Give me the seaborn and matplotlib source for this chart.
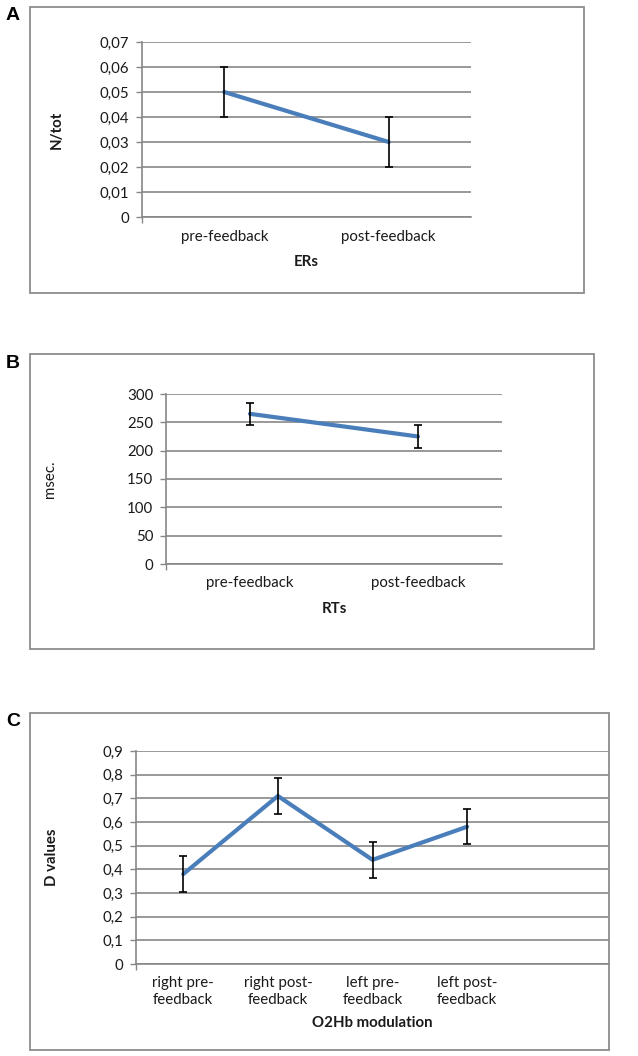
import numpy as np
import matplotlib
matplotlib.use("Agg")
import matplotlib.pyplot as plt
import seaborn as sns
from matplotlib.patches import Rectangle
from matplotlib.ticker import FuncFormatter, FixedLocator

# ---------------- data ----------------
er_categories = ["pre-feedback", "post-feedback"]
er_values = [0.05, 0.03]
er_errors = [0.01, 0.01]
er_yticks = [0, 0.01, 0.02, 0.03, 0.04, 0.05, 0.06, 0.07]

rt_categories = ["pre-feedback", "post-feedback"]
rt_values = [265, 225]
rt_errors = [20, 20]
rt_yticks = [0, 50, 100, 150, 200, 250, 300]

o2_categories = ["right pre-\nfeedback", "right post-\nfeedback", "left pre-\nfeedback", "left post-\nfeedback", ""]
o2_values = [0.38, 0.71, 0.44, 0.58]
o2_errors = [0.075, 0.075, 0.075, 0.075]
o2_yticks = [0, 0.1, 0.2, 0.3, 0.4, 0.5, 0.6, 0.7, 0.8, 0.9]

# ---------------- style ----------------
sns.set_theme(style="white")
plt.rcParams["font.family"] = ["Lato", "DejaVu Sans"]

W, H = 638, 1056
fig = plt.figure(figsize=(W / 100, H / 100), dpi=100)

LINE = "#4A7EBB"
GRID = "#878787"
FRAME = "#8C8C8C"
TXT = "#1a1a1a"


def fx(px):
    return px / W


def fy(py):
    return 1 - py / H


def comma(v, pos):
    if abs(v) < 1e-12:
        return "0"
    s = ("%.2f" % v).rstrip("0")
    if s.endswith("."):
        s = s[:-1]
    return s.replace(".", ",")


def panel(box, frame, cats, vals, errs, yticks, ylab, xlab, letter,
          ylab_x, xlab_y, ylab_bold=True, ncat=None, fmt=None):
    l, t, r, b = box
    ax = fig.add_axes([fx(l), fy(b), fx(r - l), (b - t) / H])
    fl, ft, fr, fb = frame
    fig.patches.append(Rectangle((fx(fl), fy(fb)), fx(fr - fl), (fb - ft) / H,
                                 transform=fig.transFigure, fill=False,
                                 edgecolor=FRAME, linewidth=1.3, zorder=0))
    n = ncat if ncat else len(cats)
    xs = np.arange(len(vals))
    sns.lineplot(x=xs, y=vals, ax=ax, color=LINE, linewidth=3.0,
                 zorder=3, solid_capstyle="round")
    ax.errorbar(xs, vals, yerr=errs, fmt="none", ecolor="black",
                elinewidth=1.2, capsize=3, capthick=1.2, zorder=4)
    ax.set_xlim(-0.5, n - 0.5)
    ax.set_ylim(yticks[0], yticks[-1])
    ax.set_yticks(yticks)
    if fmt:
        ax.yaxis.set_major_formatter(FuncFormatter(fmt))
    ax.set_xticks(np.arange(n))
    ax.set_xticklabels(cats, linespacing=1.25)
    ax.xaxis.set_minor_locator(FixedLocator([-0.5]))
    ax.grid(axis="y", color=GRID, linewidth=1.2)
    ax.set_axisbelow(True)
    for s in ["top", "right"]:
        ax.spines[s].set_visible(False)
    for s in ["left", "bottom"]:
        ax.spines[s].set_color(GRID)
        ax.spines[s].set_linewidth(1.2)
    ax.tick_params(axis="y", which="major", length=4, width=1.0, color=GRID,
                   direction="out", pad=5, labelsize=10.8, labelcolor=TXT, left=True)
    ax.tick_params(axis="x", which="major", length=0, pad=9, labelsize=10.8, labelcolor=TXT)
    ax.tick_params(axis="x", which="minor", length=4, width=1.0, color=GRID,
                   direction="out", bottom=True)
    ax.set_xlabel("")
    ax.set_ylabel("")
    fig.text(fx(ylab_x), fy((t + b) / 2), ylab, rotation=90, ha="center", va="center",
             fontsize=10.8, fontweight="bold" if ylab_bold else "normal", color=TXT)
    fig.text(fx((l + r) / 2), fy(xlab_y), xlab, ha="center", va="center",
             fontsize=10.8, fontweight="bold", color=TXT)
    fig.text(fx(13), fy(frame[1] + 9), letter, ha="center", va="center",
             fontsize=14, fontweight="bold", family="Liberation Sans", color="black")
    return ax


panel((142, 42, 471, 217), (30, 7, 584, 293), er_categories, er_values, er_errors,
      er_yticks, "N/tot", "ERs", "A", 57, 262, fmt=comma)
panel((166, 394, 502, 564), (30, 354, 594, 649), rt_categories, rt_values, rt_errors,
      rt_yticks, "msec.", "RTs", "B", 50, 609, ylab_bold=False)
panel((136, 751, 609, 964), (30, 713, 609, 1050), o2_categories, o2_values, o2_errors,
      o2_yticks, "D values", "O2Hb modulation", "C", 52, 1023, ncat=5, fmt=comma)

fig.savefig("out.png", dpi=100)
